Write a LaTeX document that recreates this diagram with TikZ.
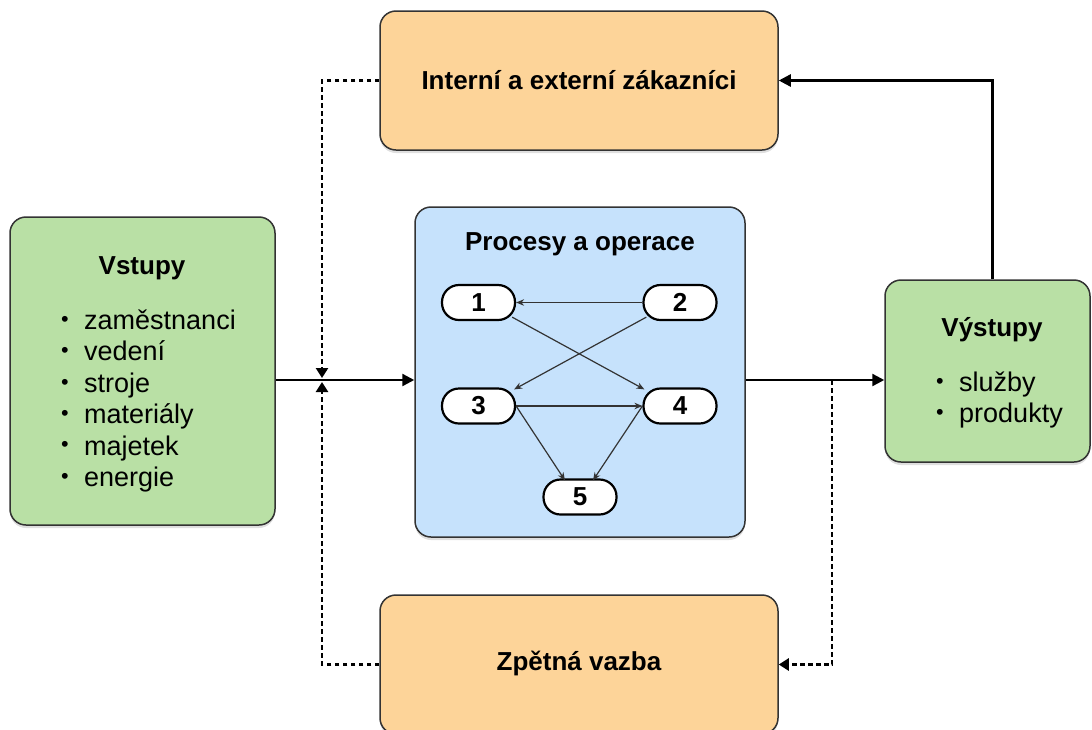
\documentclass[tikz,border=0pt]{standalone}
\usepackage{fontspec}
\usepackage{graphicx}
\setmainfont{Liberation Sans}
\usetikzlibrary{arrows.meta,shadows,calc}
\definecolor{orangefill}{HTML}{FDD499}
\definecolor{greenfill}{HTML}{B9E0A5}
\definecolor{bluefill}{HTML}{C6E2FC}
\definecolor{edgegray}{HTML}{333333}
\newcommand\mybul{\makebox[23pt][l]{\raisebox{0.12em}{\scalebox{0.8}{\textbullet}}}}
\begin{document}
\begin{tikzpicture}[x=1pt,y=-1pt,
  box/.style={draw=edgegray, line width=1.5pt, rounded corners=16pt, inner sep=0pt,
    drop shadow={opacity=0.25, shadow xshift=0pt, shadow yshift=-3pt}},
  titlefont/.style={font=\fontsize{26}{30}\selectfont\bfseries},
  listfont/.style={font=\fontsize{27}{31.4}\selectfont, align=left, inner sep=0pt},
  pill/.style={draw=black, fill=white, line width=2.2pt, rounded corners=17pt,
    minimum width=73pt, minimum height=35pt, inner sep=0pt,
    font=\fontsize{26}{26}\selectfont\bfseries},
  mainarrow/.style={line width=2.4pt, -{Triangle[length=12pt,width=12pt]}},
  dotarrow/.style={line width=2.4pt, dash pattern=on 4.5pt off 3.5pt, -{Triangle[length=10pt,width=12pt]}},
  smallarrow/.style={line width=1.2pt, draw=edgegray, -{Stealth[length=8pt,width=6.5pt]}}
]
\path[use as bounding box] (0,0) rectangle (1092,729);

% boxes
\node[box, fill=orangefill, minimum width=398pt, minimum height=139pt] (top) at (579,80.5) {};
\node[box, fill=greenfill, minimum width=265pt, minimum height=308pt] (in) at (142.5,371) {};
\node[box, fill=bluefill, minimum width=330pt, minimum height=330pt] (proc) at (580,372) {};
\node[box, fill=greenfill, minimum width=205pt, minimum height=182pt] (out) at (987.5,371) {};
\node[box, fill=orangefill, minimum width=398pt, minimum height=139pt] (bot) at (579,664.5) {};

% texts
\node[titlefont] (toptext) at (579,80) {Interní a externí zákazníci};
\node[titlefont] (bottext) at (579,663) {Zpětná vazba};
\node[titlefont] (intitle) at (142,268) {Vstupy};
\node[listfont, anchor=west] (inlist) at (61,401) {%
  \mybul zaměstnanci\\
  \mybul vedení\\
  \mybul stroje\\
  \mybul materiály\\
  \mybul majetek\\
  \mybul energie};
\node[titlefont] (proctitle) at (580,244) {Procesy a operace};
\node[titlefont] (outtitle) at (992,330) {Výstupy};
\node[listfont, anchor=west] (outlist) at (936,400) {%
  \mybul služby\\
  \mybul produkty};

% pills
\node[pill] (n1) at (478.5,302.5) {1};
\node[pill] (n2) at (680,302.5) {2};
\node[pill] (n3) at (478.5,406) {3};
\node[pill] (n4) at (680,406) {4};
\node[pill] (n5) at (580,497) {5};

% inner arrows
\draw[smallarrow] (n2.west) -- (n1.east);
\draw[smallarrow] ([xshift=-4pt,yshift=4pt]n1.south east) -- ([xshift=2pt,yshift=-2pt]n4.north west);
\draw[smallarrow] ([xshift=4pt,yshift=4pt]n2.south west) -- ([xshift=-2pt,yshift=-2pt]n3.north east);
\draw[smallarrow] (n3.east) -- (n4.west);
\draw[smallarrow] (n3.east) -- ([xshift=-15pt,yshift=-2pt]n5.north);
\draw[smallarrow] (n4.west) -- ([xshift=13pt,yshift=-2pt]n5.north);

% main connectors
\coordinate (axis) at (0,380);
\coordinate (jt) at (322,378);
\coordinate (jb) at (322,382);
\coordinate (fb) at (832,380);
\draw[mainarrow] (in.east |- axis) -- (proc.west |- axis);
\draw[mainarrow] (proc.east |- axis) -- (out.west |- axis);
\draw[dotarrow] (top.west) -| (jt);
\draw[dotarrow] (bot.west) -| (jb);
\draw[dotarrow] (fb) |- (bot.east);
\draw[mainarrow] ([xshift=5pt]out.north) |- (top.east);
\end{tikzpicture}
\end{document}
